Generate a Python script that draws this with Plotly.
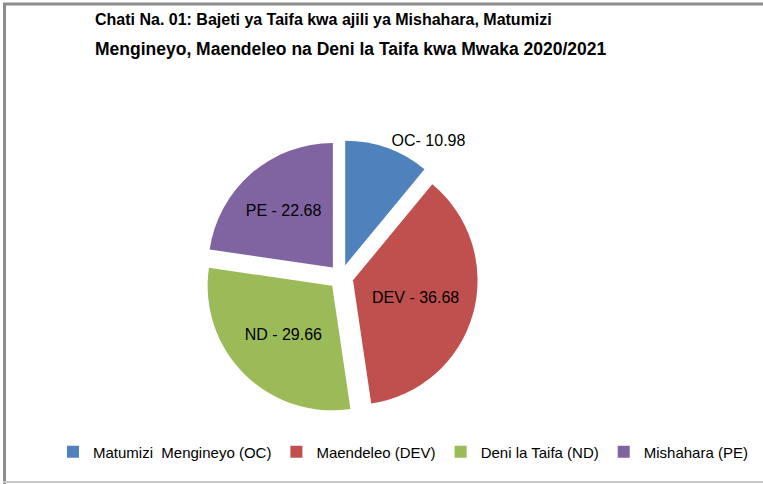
import plotly.graph_objects as go

legend_names = ["Matumizi  Mengineyo (OC)", "Maendeleo (DEV)", "Deni la Taifa (ND)", "Mishahara (PE)"]
slice_texts = ["OC- 10.98", "DEV - 36.68", "ND - 29.66", "PE - 22.68"]
values = [10.98, 36.68, 29.66, 22.68]
colors = ["#4F81BD", "#C0504D", "#9BBB59", "#8064A2"]

FONT = "Liberation Sans, Arial, sans-serif"
W, H = 763, 484

cx, cy, R = 341, 277, 137
fig = go.Figure(go.Pie(
    labels=legend_names,
    values=values,
    text=slice_texts,
    texttemplate="%{text}",
    textposition=["outside", "inside", "inside", "inside"],
    insidetextorientation="horizontal",
    sort=False,
    direction="clockwise",
    rotation=0,
    pull=[0.1, 0.1, 0.1, 0.1],
    marker=dict(colors=colors, line=dict(width=0)),
    textfont=dict(family=FONT, size=16, color="#000000"),
    hoverinfo="label+value",
    domain=dict(x=[(cx - R) / W, (cx + R) / W], y=[(H - cy - R) / H, (H - cy + R) / H]),
))

fig.update_layout(
    width=W, height=H,
    margin=dict(l=0, r=0, t=0, b=0),
    paper_bgcolor="white",
    plot_bgcolor="white",
    font=dict(family=FONT, color="#000000"),
    showlegend=True,
    legend=dict(orientation="h", x=403 / W, xanchor="center", y=1 - 452 / H, yanchor="middle",
                font=dict(family=FONT, size=15, color="#000000"), itemwidth=30),
    annotations=[
        dict(text="<b>Chati Na. 01: Bajeti ya Taifa kwa ajili ya Mishahara, Matumizi</b>",
             x=323 / W, y=1 - 19 / H, xref="paper", yref="paper", showarrow=False,
             font=dict(family=FONT, size=16, color="#000000"), xanchor="center", yanchor="middle"),
        dict(text="<b>Mengineyo, Maendeleo na Deni la Taifa kwa Mwaka 2020/2021</b>",
             x=351 / W, y=1 - 49 / H, xref="paper", yref="paper", showarrow=False,
             font=dict(family=FONT, size=17.5, color="#000000"), xanchor="center", yanchor="middle"),
    ],
    shapes=[
        dict(type="line", xref="paper", yref="paper", x0=3 / W, x1=1, y0=1 - 4 / H, y1=1 - 4 / H,
             line=dict(color="#8C8C8C", width=3)),
        dict(type="line", xref="paper", yref="paper", x0=4.5 / W, x1=4.5 / W, y0=0, y1=1 - 3 / H,
             line=dict(color="#8C8C8C", width=3)),
        dict(type="line", xref="paper", yref="paper", x0=3 / W, x1=1, y0=2 / H, y1=2 / H,
             line=dict(color="#C8C8C8", width=2)),
    ],
)

fig.write_html("out.html", config={"displayModeBar": False},
               post_script="document.body.style.margin='0';")
